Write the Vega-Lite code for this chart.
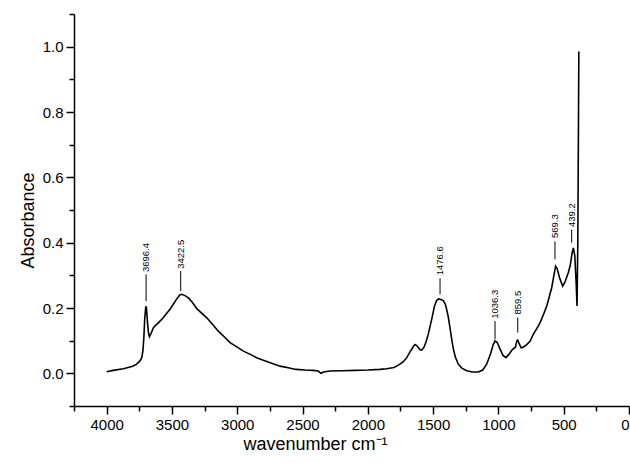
{
  "$schema": "https://vega.github.io/schema/vega-lite/v6.json",
  "autosize": "none",
  "padding": {"left": 74, "top": 14, "right": 1, "bottom": 57},
  "width": 555,
  "height": 392,
  "background": "white",
  "config": {
    "view": {"stroke": null},
    "font": "Liberation Sans",
    "axis": {
      "domainColor": "black",
      "domainWidth": 1.5,
      "tickColor": "black",
      "tickWidth": 1.5,
      "labelColor": "black",
      "titleColor": "black",
      "labelFont": "Liberation Sans",
      "titleFont": "Liberation Sans",
      "grid": false
    }
  },
  "datasets": {
    "spectrum": [
      {"wn": 4000, "A": 0.005}, {"wn": 3950, "A": 0.009}, {"wn": 3872, "A": 0.014},
      {"wn": 3800, "A": 0.022}, {"wn": 3770, "A": 0.028}, {"wn": 3745, "A": 0.038},
      {"wn": 3731, "A": 0.048}, {"wn": 3722, "A": 0.07}, {"wn": 3715, "A": 0.11},
      {"wn": 3708, "A": 0.17}, {"wn": 3700, "A": 0.205}, {"wn": 3695, "A": 0.2},
      {"wn": 3688, "A": 0.16}, {"wn": 3680, "A": 0.125}, {"wn": 3672, "A": 0.112},
      {"wn": 3660, "A": 0.122}, {"wn": 3642, "A": 0.14}, {"wn": 3578, "A": 0.165},
      {"wn": 3515, "A": 0.196}, {"wn": 3463, "A": 0.228}, {"wn": 3440, "A": 0.24},
      {"wn": 3425, "A": 0.242}, {"wn": 3400, "A": 0.238}, {"wn": 3374, "A": 0.231},
      {"wn": 3340, "A": 0.215}, {"wn": 3310, "A": 0.198}, {"wn": 3233, "A": 0.17},
      {"wn": 3190, "A": 0.15}, {"wn": 3145, "A": 0.129}, {"wn": 3100, "A": 0.112},
      {"wn": 3055, "A": 0.094}, {"wn": 3000, "A": 0.08}, {"wn": 2953, "A": 0.068},
      {"wn": 2900, "A": 0.058}, {"wn": 2851, "A": 0.048}, {"wn": 2800, "A": 0.04},
      {"wn": 2736, "A": 0.031}, {"wn": 2672, "A": 0.022}, {"wn": 2609, "A": 0.017},
      {"wn": 2550, "A": 0.012}, {"wn": 2480, "A": 0.01}, {"wn": 2420, "A": 0.009},
      {"wn": 2380, "A": 0.007}, {"wn": 2358, "A": 0.0}, {"wn": 2340, "A": 0.004},
      {"wn": 2289, "A": 0.007}, {"wn": 2200, "A": 0.008}, {"wn": 2100, "A": 0.009},
      {"wn": 2000, "A": 0.01}, {"wn": 1907, "A": 0.012}, {"wn": 1855, "A": 0.014},
      {"wn": 1800, "A": 0.018}, {"wn": 1766, "A": 0.025}, {"wn": 1730, "A": 0.035},
      {"wn": 1702, "A": 0.048}, {"wn": 1670, "A": 0.07}, {"wn": 1650, "A": 0.083},
      {"wn": 1639, "A": 0.088}, {"wn": 1625, "A": 0.085}, {"wn": 1600, "A": 0.072},
      {"wn": 1587, "A": 0.071}, {"wn": 1570, "A": 0.08}, {"wn": 1555, "A": 0.095},
      {"wn": 1537, "A": 0.12}, {"wn": 1511, "A": 0.165}, {"wn": 1490, "A": 0.205},
      {"wn": 1475, "A": 0.222}, {"wn": 1460, "A": 0.228}, {"wn": 1440, "A": 0.226},
      {"wn": 1420, "A": 0.222}, {"wn": 1405, "A": 0.21}, {"wn": 1396, "A": 0.195},
      {"wn": 1385, "A": 0.175}, {"wn": 1371, "A": 0.14}, {"wn": 1358, "A": 0.105},
      {"wn": 1345, "A": 0.075}, {"wn": 1330, "A": 0.05}, {"wn": 1307, "A": 0.028},
      {"wn": 1280, "A": 0.016}, {"wn": 1243, "A": 0.008}, {"wn": 1200, "A": 0.004},
      {"wn": 1154, "A": 0.004}, {"wn": 1120, "A": 0.01}, {"wn": 1090, "A": 0.028},
      {"wn": 1060, "A": 0.06}, {"wn": 1040, "A": 0.088}, {"wn": 1026, "A": 0.099},
      {"wn": 1010, "A": 0.095}, {"wn": 988, "A": 0.075}, {"wn": 965, "A": 0.055},
      {"wn": 942, "A": 0.048}, {"wn": 920, "A": 0.058}, {"wn": 895, "A": 0.072},
      {"wn": 870, "A": 0.08}, {"wn": 858, "A": 0.1}, {"wn": 852, "A": 0.102},
      {"wn": 840, "A": 0.09}, {"wn": 826, "A": 0.078}, {"wn": 810, "A": 0.08},
      {"wn": 783, "A": 0.088}, {"wn": 758, "A": 0.098}, {"wn": 733, "A": 0.119},
      {"wn": 694, "A": 0.145}, {"wn": 681, "A": 0.155}, {"wn": 650, "A": 0.185},
      {"wn": 630, "A": 0.206}, {"wn": 610, "A": 0.235}, {"wn": 592, "A": 0.262},
      {"wn": 575, "A": 0.3}, {"wn": 562, "A": 0.328}, {"wn": 550, "A": 0.32},
      {"wn": 530, "A": 0.29}, {"wn": 508, "A": 0.267}, {"wn": 490, "A": 0.28},
      {"wn": 465, "A": 0.308}, {"wn": 450, "A": 0.33}, {"wn": 435, "A": 0.37},
      {"wn": 426, "A": 0.384}, {"wn": 415, "A": 0.36}, {"wn": 405, "A": 0.28},
      {"wn": 398, "A": 0.206}, {"wn": 392, "A": 0.4}, {"wn": 384, "A": 0.985}
    ],
    "peaks": [
      {"wn": 3698, "y1": 0.221, "y2": 0.303, "ty": 0.31, "label": "3696.4"},
      {"wn": 3433, "y1": 0.252, "y2": 0.313, "ty": 0.32, "label": "3422.5"},
      {"wn": 1447, "y1": 0.242, "y2": 0.291, "ty": 0.30, "label": "1476.6"},
      {"wn": 1026, "y1": 0.104, "y2": 0.16, "ty": 0.167, "label": "1036.3"},
      {"wn": 852, "y1": 0.125, "y2": 0.171, "ty": 0.18, "label": "859.5"},
      {"wn": 567, "y1": 0.349, "y2": 0.404, "ty": 0.414, "label": "569.3"},
      {"wn": 439, "y1": 0.40, "y2": 0.44, "ty": 0.448, "label": "439.2"}
    ]
  },
  "resolve": {"axis": {"x": "independent", "y": "independent"}},
  "layer": [
    {
      "data": {"name": "spectrum"},
      "mark": {"type": "line", "color": "black", "strokeWidth": 1.6, "clip": true},
      "encoding": {
        "x": {
          "field": "wn", "type": "quantitative",
          "scale": {"domain": [0, 4250], "reverse": true, "nice": false, "zero": false},
          "axis": {
            "orient": "bottom",
            "values": [4000, 3500, 3000, 2500, 2000, 1500, 1000, 500, 0],
            "format": "d",
            "tickSize": 8,
            "labelFontSize": 15,
            "labelPadding": 3,
            "labelFlush": true,
            "labelOverlap": false,
            "title": "wavenumber cm⁻¹",
            "titleFontSize": 18,
            "titleFontWeight": "normal",
            "titleX": 241,
            "titleY": 38,
            "titleAlign": "center",
            "titleBaseline": "middle"
          }
        },
        "y": {
          "field": "A", "type": "quantitative",
          "scale": {"domain": [-0.1, 1.1], "nice": false, "zero": false},
          "axis": {
            "orient": "left",
            "values": [0, 0.2, 0.4, 0.6, 0.8, 1.0],
            "format": ".1f",
            "tickSize": 8,
            "labelFontSize": 15,
            "labelPadding": 3,
            "labelOverlap": false,
            "title": "Absorbance",
            "titleFontSize": 18,
            "titleFontWeight": "normal",
            "titleX": -46,
            "titleY": 206,
            "titleAngle": 270,
            "titleAlign": "center",
            "titleBaseline": "middle"
          }
        }
      }
    },
    {
      "data": {"name": "peaks"},
      "mark": {"type": "rule", "color": "black", "strokeWidth": 1},
      "encoding": {
        "x": {
          "field": "wn", "type": "quantitative",
          "axis": {
            "orient": "bottom",
            "values": [4250, 3750, 3250, 2750, 2250, 1750, 1250, 750, 250],
            "tickSize": 5,
            "labels": false,
            "domain": false,
            "title": null
          }
        },
        "y": {
          "field": "y1", "type": "quantitative",
          "axis": {
            "orient": "left",
            "values": [-0.1, 0.1, 0.3, 0.5, 0.7, 0.9, 1.1],
            "tickSize": 5,
            "labels": false,
            "domain": false,
            "title": null
          }
        },
        "y2": {"field": "y2"}
      }
    },
    {
      "data": {"name": "peaks"},
      "mark": {"type": "text", "angle": 270, "align": "left", "baseline": "middle", "fontSize": 9.5, "font": "Liberation Sans", "color": "black"},
      "encoding": {
        "x": {"field": "wn", "type": "quantitative", "axis": null},
        "y": {"field": "ty", "type": "quantitative", "axis": null},
        "text": {"field": "label"}
      }
    }
  ]
}
